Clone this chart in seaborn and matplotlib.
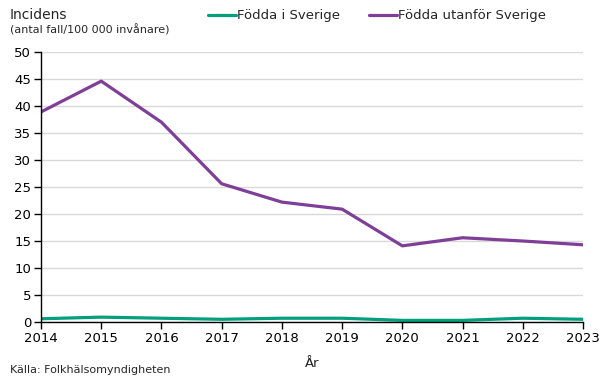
import matplotlib
matplotlib.use("Agg")
import matplotlib.pyplot as plt
import seaborn as sns
import pandas as pd

years = [2014, 2015, 2016, 2017, 2018, 2019, 2020, 2021, 2022, 2023]
fodda_sverige = [0.6, 0.9, 0.7, 0.5, 0.7, 0.7, 0.3, 0.3, 0.7, 0.5]
fodda_utanfor = [38.9, 44.6, 37.0, 25.6, 22.2, 20.9, 14.1, 15.6, 15.0, 14.3]
series_names = ["Födda i Sverige", "Födda utanför Sverige"]
colors = ["#00a07c", "#7f3f98"]

sns.set_theme(style="white")
plt.rcParams['font.family'] = ['DejaVu Sans']

df = pd.DataFrame({
    "År": years * 2,
    "value": fodda_sverige + fodda_utanfor,
    "serie": [series_names[0]] * len(years) + [series_names[1]] * len(years),
})

fig = plt.figure(figsize=(6.05, 3.79), dpi=100)
ax = fig.add_axes([41 / 605, 1 - 322 / 379, (583 - 41) / 605, (322 - 52) / 379])
sns.lineplot(data=df, x="År", y="value", hue="serie", palette=colors,
             linewidth=2.3, ax=ax, legend=False)

ax.set_xlim(2014, 2023)
ax.set_ylim(0, 50)
ax.set_xticks(years)
ax.set_yticks(range(0, 51, 5))
ax.yaxis.grid(True, color="#d9d9d9", linewidth=1)
ax.xaxis.grid(False)
ax.set_axisbelow(True)
for s in ["top", "right"]:
    ax.spines[s].set_visible(False)
for s in ["left", "bottom"]:
    ax.spines[s].set_color("black")
    ax.spines[s].set_linewidth(1)
ax.tick_params(axis="both", which="both", direction="out", length=5, width=1,
               colors="black", labelsize=9.5, left=True, bottom=True, pad=2)
ax.set_xlabel("År", fontsize=9.5, labelpad=9)
ax.set_ylabel("")

from matplotlib.lines import Line2D
handles = [Line2D([0], [0], color=c, linewidth=2.3) for c in colors]
fig.legend(handles, series_names, loc="center", bbox_to_anchor=(377 / 605, 1 - 16 / 379),
           ncol=2, frameon=False, fontsize=9.5, handlelength=2.1, handletextpad=0.1,
           columnspacing=2.2)

fig.text(10 / 605, 1 - 15 / 379, "Incidens", fontsize=10, va="center", ha="left")
fig.text(10 / 605, 1 - 30 / 379, "(antal fall/100 000 invånare)", fontsize=8, va="center", ha="left")
fig.text(10 / 605, 1 - 370 / 379, "Källa: Folkhälsomyndigheten", fontsize=8, va="center", ha="left")

fig.savefig("out.png", dpi=100)
